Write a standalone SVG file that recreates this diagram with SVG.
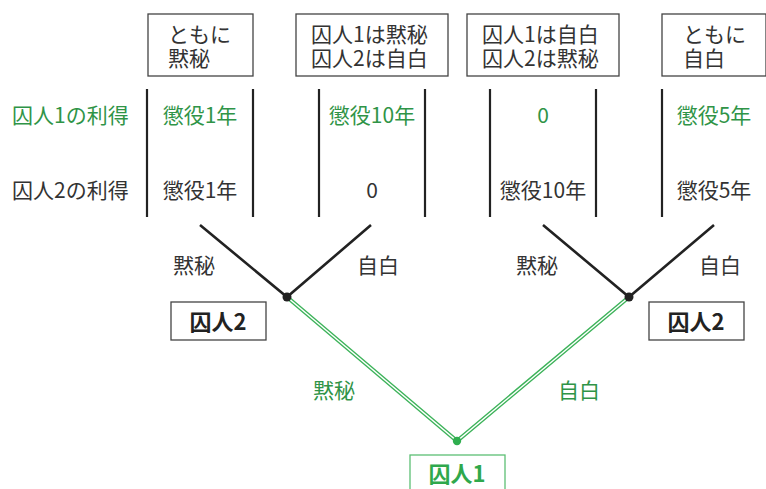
<svg xmlns="http://www.w3.org/2000/svg" width="766" height="489" viewBox="0 0 766 489">
<style>
text{font-family:"Noto Sans CJK JP","Noto Sans",sans-serif;font-size:21px;fill:#333}
.g{fill:#2f9447}
.c{text-anchor:middle}
.b{font-weight:bold;font-size:22px;fill:#222}
.box{fill:#fff;stroke:#444;stroke-width:1.3}
.vl{stroke:#222;stroke-width:2.2}
.br{stroke:#222;stroke-width:2.6;fill:none}
.gl{stroke:#3db35a;stroke-width:4.2;fill:none}
.gw{stroke:#fff;stroke-width:1.4;fill:none}
</style>
<rect width="766" height="489" fill="#fff"/>
<g id="outcome1"><rect class="box" x="148" y="14" width="105" height="62"/><text><tspan x="168" y="42">ともに</tspan><tspan x="168" y="66">黙秘</tspan></text></g>
<g id="outcome2"><rect class="box" x="296" y="14" width="152" height="62"/><text><tspan x="311" y="42">囚人1は黙秘</tspan><tspan x="311" y="66">囚人2は自白</tspan></text></g>
<g id="outcome3"><rect class="box" x="467" y="14" width="152" height="62"/><text><tspan x="482" y="42">囚人1は自白</tspan><tspan x="482" y="66">囚人2は黙秘</tspan></text></g>
<g id="outcome4"><rect class="box" x="662" y="14" width="104" height="62"/><text><tspan x="683" y="42">ともに</tspan><tspan x="683" y="66">自白</tspan></text></g>
<g id="row-labels"><text class="g" x="12" y="123">囚人1の利得</text><text x="12" y="198">囚人2の利得</text></g>
<g id="columns">
<line class="vl" x1="147" y1="89" x2="147" y2="217"/><line class="vl" x1="253" y1="89" x2="253" y2="217"/>
<line class="vl" x1="319" y1="89" x2="319" y2="217"/><line class="vl" x1="425" y1="89" x2="425" y2="217"/>
<line class="vl" x1="490" y1="89" x2="490" y2="217"/><line class="vl" x1="596" y1="89" x2="596" y2="217"/>
<line class="vl" x1="662" y1="89" x2="662" y2="217"/>
</g>
<g id="payoffs">
<text class="g c" x="200" y="123">懲役1年</text><text class="c" x="200" y="198">懲役1年</text>
<text class="g c" x="372" y="123">懲役10年</text><text class="c" x="372" y="198">0</text>
<text class="g c" x="543" y="123">0</text><text class="c" x="543" y="198">懲役10年</text>
<text class="g c" x="714" y="123">懲役5年</text><text class="c" x="714" y="198">懲役5年</text>
</g>
<g id="connectors">
<polyline class="gl" points="287,297 457,441 629,297"/>
<polyline class="gw" points="287,297 457,441 629,297"/>
<polyline class="br" points="200,225 287,297 371,225"/>
<polyline class="br" points="543,225 629,297 714,225"/>
<circle cx="287" cy="297" r="4.5" fill="#222"/>
<circle cx="629" cy="297" r="4.5" fill="#222"/>
<circle cx="457" cy="441" r="4.2" fill="#2fae4f"/>
</g>
<g id="edge-labels">
<text x="173" y="273">黙秘</text><text x="357" y="273">自白</text>
<text x="516" y="273">黙秘</text><text x="699" y="273">自白</text>
<text class="g" x="313" y="398">黙秘</text><text class="g" x="558" y="398">自白</text>
</g>
<g id="player2-left"><rect class="box" x="171" y="302" width="95" height="38"/><text class="b c" x="218" y="330">囚人2</text></g>
<g id="player2-right"><rect class="box" x="649" y="302" width="95" height="38"/><text class="b c" x="696" y="330">囚人2</text></g>
<g id="player1"><rect x="410" y="455" width="95" height="40" fill="#fff" stroke="#5cbf74" stroke-width="1.3"/><text class="b c" x="457" y="482" style="fill:#2fa84c">囚人1</text></g>
</svg>
